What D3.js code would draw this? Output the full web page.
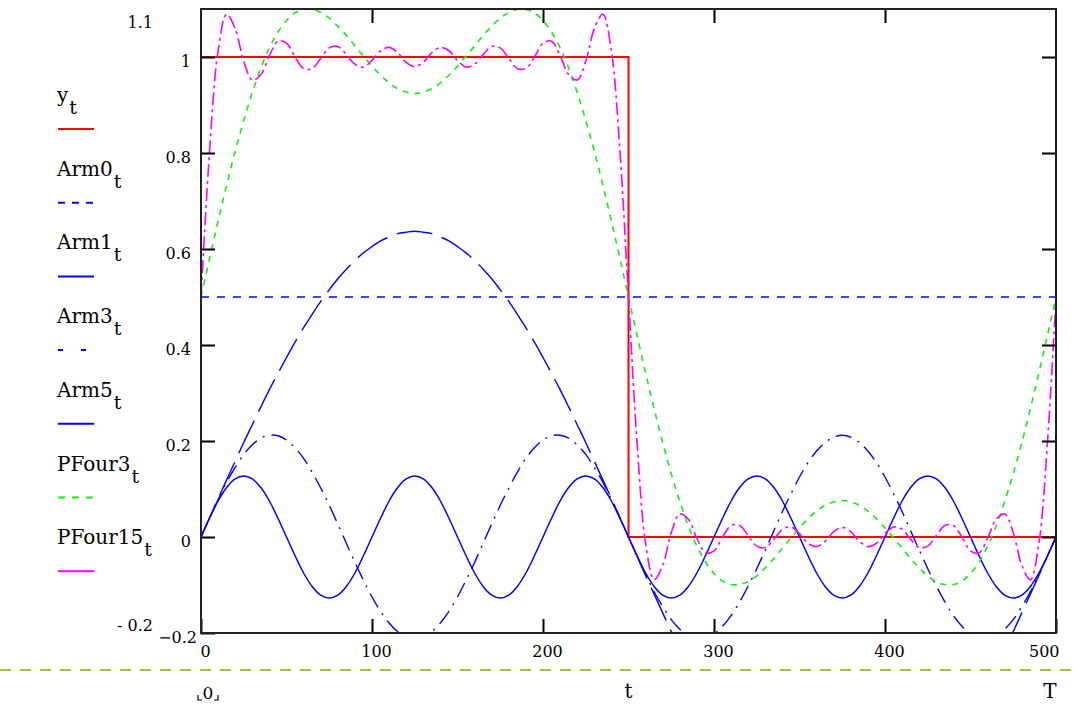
<!DOCTYPE html>
<html>
<head>
<meta charset="utf-8">
<script src="https://cdn.jsdelivr.net/npm/d3@7"></script>
<style>
body { margin: 0; background: #fff; }
svg text { font-family: "DejaVu Serif", serif; fill: #000; }
</style>
</head>
<body>
<svg id="chart" width="1080" height="704"></svg>
<script>
// sample grid t = 0..T, step 5
const tVals = [0,5,10,15,20,25,30,35,40,45,50,55,60,65,70,75,80,85,90,95,
  100,105,110,115,120,125,130,135,140,145,150,155,160,165,170,175,180,185,190,195,
  200,205,210,215,220,225,230,235,240,245,250,255,260,265,270,275,280,285,290,295,
  300,305,310,315,320,325,330,335,340,345,350,355,360,365,370,375,380,385,390,395,
  400,405,410,415,420,425,430,435,440,445,450,455,460,465,470,475,480,485,490,495,500];

const yVals = [1,1,1,1,1,1,1,1,1,1,1,1,1,1,1,1,1,1,1,1,1,1,1,1,1,
  1,1,1,1,1,1,1,1,1,1,1,1,1,1,1,1,1,1,1,1,1,1,1,1,1,
  0,0,0,0,0,0,0,0,0,0,0,0,0,0,0,0,0,0,0,0,0,0,0,0,0,
  0,0,0,0,0,0,0,0,0,0,0,0,0,0,0,0,0,0,0,0,0,0,0,0,0,0];

const arm0T = [0, 500];
const arm0Vals = [0.5, 0.5];

const arm1Vals = [0,.040,.080,.119,.158,.197,.234,.271,.307,.341,.374,.406,.436,.464,.491,.515,.538,.558,.576,.592,.605,.617,.625,.632,.635,.637,
  .635,.632,.625,.617,.605,.592,.576,.558,.538,.515,.491,.464,.436,.406,.374,.341,.307,.271,.234,.197,.158,.119,.080,.040,0,
  -.040,-.080,-.119,-.158,-.197,-.234,-.271,-.307,-.341,-.374,-.406,-.436,-.464,-.491,-.515,-.538,-.558,-.576,-.592,-.605,-.617,-.625,-.632,-.635,-.637,
  -.635,-.632,-.625,-.617,-.605,-.592,-.576,-.558,-.538,-.515,-.491,-.464,-.436,-.406,-.374,-.341,-.307,-.271,-.234,-.197,-.158,-.119,-.080,-.040,0];

const arm3Vals = [0,.040,.078,.114,.145,.172,.192,.206,.212,.211,.202,.186,.164,.135,.102,.066,.027,-.013,-.053,-.090,-.125,-.155,-.179,-.197,-.208,-.212,
  -.208,-.197,-.179,-.155,-.125,-.090,-.053,-.013,.027,.066,.102,.135,.164,.186,.202,.211,.212,.206,.192,.172,.145,.114,.078,.040,0,
  -.040,-.078,-.114,-.145,-.172,-.192,-.206,-.212,-.211,-.202,-.186,-.164,-.135,-.102,-.066,-.027,.013,.053,.090,.125,.155,.179,.197,.208,.212,
  .208,.197,.179,.155,.125,.090,.053,.013,-.027,-.066,-.102,-.135,-.164,-.186,-.202,-.211,-.212,-.206,-.192,-.172,-.145,-.114,-.078,-.040,0];

const arm5Vals = [0,.039,.075,.103,.121,.127,.121,.103,.075,.039,0,-.039,-.075,-.103,-.121,-.127,-.121,-.103,-.075,-.039,0,.039,.075,.103,.121,.127,
  .121,.103,.075,.039,0,-.039,-.075,-.103,-.121,-.127,-.121,-.103,-.075,-.039,0,.039,.075,.103,.121,.127,.121,.103,.075,.039,0,
  -.039,-.075,-.103,-.121,-.127,-.121,-.103,-.075,-.039,0,.039,.075,.103,.121,.127,.121,.103,.075,.039,0,-.039,-.075,-.103,-.121,-.127,
  -.121,-.103,-.075,-.039,0,.039,.075,.103,.121,.127,.121,.103,.075,.039,0,-.039,-.075,-.103,-.121,-.127,-.121,-.103,-.075,-.039,0];

const pFour3Vals = [.5,.580,.658,.733,.804,.868,.926,.977,1.019,1.052,1.076,1.092,1.099,1.099,1.093,1.081,1.064,1.045,1.023,1.002,.981,.962,.946,.934,.927,.924,
  .927,.934,.946,.962,.981,1.002,1.023,1.045,1.064,1.081,1.093,1.099,1.099,1.092,1.076,1.052,1.019,.977,.926,.868,.804,.733,.658,.580,.5,
  .420,.342,.267,.196,.132,.074,.023,-.019,-.052,-.076,-.092,-.099,-.099,-.093,-.081,-.064,-.045,-.023,-.002,.019,.038,.054,.066,.073,.076,
  .073,.066,.054,.038,.019,-.002,-.023,-.045,-.064,-.081,-.093,-.099,-.099,-.092,-.076,-.052,-.019,.023,.074,.132,.196,.267,.342,.420,.5];

const pFour15Vals = [.5,.803,1.013,1.089,1.059,.991,.952,.963,1.003,1.033,1.029,1.000,.976,.976,.997,1.019,1.022,1.005,.985,.979,.993,1.013,1.020,1.009,.989,.980,
  .989,1.009,1.020,1.013,.993,.979,.985,1.005,1.022,1.019,.997,.976,.976,1.000,1.029,1.033,1.003,.963,.952,.991,1.059,1.089,1.013,.803,.5,
  .197,-.013,-.089,-.059,.009,.048,.037,-.003,-.033,-.029,.000,.024,.024,.003,-.019,-.022,-.005,.016,.021,.007,-.013,-.020,-.009,.011,.020,
  .011,-.009,-.020,-.013,.007,.021,.016,-.005,-.022,-.019,.003,.024,.024,.000,-.029,-.033,-.003,.037,.048,.009,-.059,-.089,-.013,.197,.5];

const legendNames = ["y", "Arm0", "Arm1", "Arm3", "Arm5", "PFour3", "PFour15"];
const yTicks = [-0.2, 0, 0.2, 0.4, 0.6, 0.8, 1];
const yTickLabels = ["\u22120.2", "0", "0.2", "0.4", "0.6", "0.8", "1"];
const xTicks = [0, 100, 200, 300, 400, 500];
const yLimits = ["1.1", "- 0.2"];
const xLimits = ["0", "t", "T"];

const svg = d3.select("#chart");

const x = d3.scaleLinear().domain([0, 500]).range([201, 1056]);
const y = d3.scaleLinear().domain([-0.2, 1.1]).range([633, 9]);

// styles per trace (kept apart from the values)
const traces = [
  { t: tVals, v: yVals, color: "#ff0000", w: 2, dash: null, legendDash: null, curve: d3.curveStepAfter },
  { t: arm0T, v: arm0Vals, color: "#0000ff", w: 1.6, dash: "8,8", legendDash: "7,7", curve: d3.curveLinear },
  { t: tVals, v: arm1Vals, color: "#0000ff", w: 1.4, dash: "36,10", legendDash: null, curve: d3.curveCatmullRom },
  { t: tVals, v: arm3Vals, color: "#0000ff", w: 1.4, dash: "16,7,2,7", legendDash: "5,18", curve: d3.curveCatmullRom },
  { t: tVals, v: arm5Vals, color: "#0000ff", w: 1.5, dash: null, legendDash: null, curve: d3.curveCatmullRom },
  { t: tVals, v: pFour3Vals, color: "#11ee11", w: 1.6, dash: "6,6", legendDash: "7,7", curve: d3.curveCatmullRom },
  { t: tVals, v: pFour15Vals, color: "#ff00ff", w: 1.6, dash: "13,4,3,4", legendDash: null, curve: d3.curveCatmullRom }
];

svg.append("defs").append("clipPath").attr("id", "plotClip")
  .append("rect")
  .attr("x", x(0)).attr("y", y(1.1))
  .attr("width", x(500) - x(0)).attr("height", y(-0.2) - y(1.1));

const plot = svg.append("g").attr("clip-path", "url(#plotClip)");

traces.forEach(tr => {
  const line = d3.line()
    .x((d, i) => x(tr.t[i]))
    .y(d => y(d))
    .curve(tr.curve);
  plot.append("path")
    .attr("d", line(tr.v))
    .attr("fill", "none")
    .attr("stroke", tr.color)
    .attr("stroke-width", tr.w)
    .attr("stroke-dasharray", tr.dash);
});

// inner ticks on all four sides
const leftAxis = svg.append("g")
  .attr("transform", `translate(${x(0)},0)`)
  .call(d3.axisLeft(y).tickValues(yTicks).tickSize(-14).tickPadding(10)
    .tickFormat((d, i) => yTickLabels[i]));
leftAxis.selectAll("text").attr("dy", null).attr("y", 9).style("font-size", "16px");
leftAxis.selectAll("text").filter(d => d === -0.2).attr("x", -4);

svg.append("g")
  .attr("transform", `translate(${x(500)},0)`)
  .call(d3.axisRight(y).tickValues(yTicks.slice(1)).tickSize(-14).tickFormat(""));

const bottomAxis = svg.append("g")
  .attr("transform", `translate(0,${y(-0.2)})`)
  .call(d3.axisBottom(x).tickValues(xTicks).tickSize(-14).tickPadding(13));
bottomAxis.selectAll("text").attr("dy", "0.71em").attr("dx", 4).style("font-size", "16px");
bottomAxis.selectAll("text").filter(d => d === 500).attr("text-anchor", "end").attr("dx", 3);

svg.append("g")
  .attr("transform", `translate(0,${y(1.1)})`)
  .call(d3.axisTop(x).tickValues(xTicks.slice(1, 5)).tickSize(-14).tickFormat(""));

svg.selectAll(".domain").remove();
svg.selectAll(".tick line").attr("stroke", "#000").attr("stroke-width", 2);

// frame
svg.append("rect")
  .attr("x", x(0)).attr("y", y(1.1))
  .attr("width", x(500) - x(0)).attr("height", y(-0.2) - y(1.1))
  .attr("fill", "none").attr("stroke", "#222").attr("stroke-width", 2);

// axis limits
svg.append("text").attr("x", 153).attr("y", 28).attr("text-anchor", "end")
  .style("font-size", "16px").text(yLimits[0]);
svg.append("text").attr("x", 153).attr("y", 631).attr("text-anchor", "end")
  .style("font-size", "16px").text(yLimits[1]);

// legend
const legend = svg.append("g");
legendNames.forEach((name, i) => {
  const ly = 129 + i * 73.7;
  const txt = legend.append("text").attr("x", 57).attr("y", ly - 27).style("font-size", "20px");
  txt.append("tspan").text(name);
  txt.append("tspan").attr("dx", 1).attr("dy", 12).style("font-size", "19px").text("t");
  legend.append("line")
    .attr("x1", 58).attr("x2", 94).attr("y1", ly).attr("y2", ly)
    .attr("stroke", traces[i].color).attr("stroke-width", 2)
    .attr("stroke-dasharray", traces[i].legendDash);
});

// x range placeholder area below the plot
svg.append("line")
  .attr("x1", 0).attr("x2", 1080).attr("y1", 670).attr("y2", 670)
  .attr("stroke", "#a3c23a").attr("stroke-width", 2).attr("stroke-dasharray", "11,9");

svg.append("text").attr("x", 208).attr("y", 699).attr("text-anchor", "middle")
  .style("font-size", "17px").text(xLimits[0]);
svg.append("path")
  .attr("d", "M198,695 L198,700 L202,700 M218,695 L218,700 L214,700")
  .attr("fill", "none").attr("stroke", "#000").attr("stroke-width", 1.2);
svg.append("text").attr("x", x(250)).attr("y", 698).attr("text-anchor", "middle")
  .style("font-size", "20px").text(xLimits[1]);
svg.append("text").attr("x", 1050).attr("y", 698).attr("text-anchor", "middle")
  .style("font-size", "20px").text(xLimits[2]);
</script>
</body>
</html>
